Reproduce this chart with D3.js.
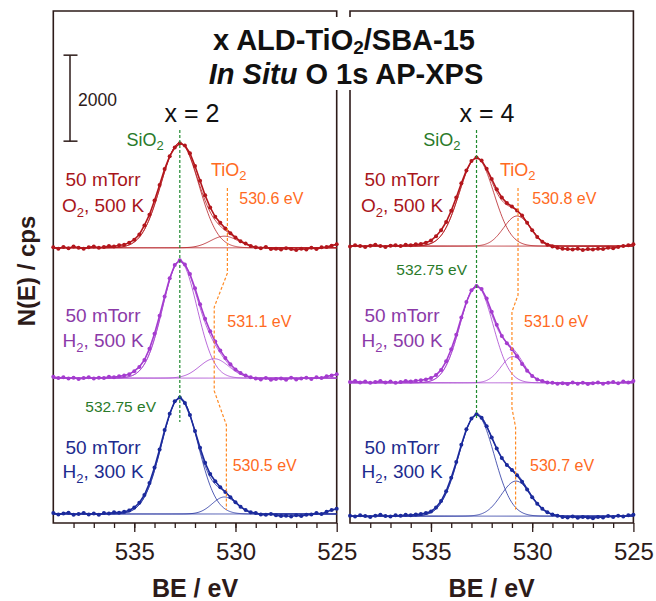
<!DOCTYPE html>
<html>
<head>
<meta charset="utf-8">
<script src="https://cdnjs.cloudflare.com/ajax/libs/d3/7.8.5/d3.min.js"></script>
<style>
  body { margin: 0; background: #fff; }
  text { font-family: "Liberation Sans", Arial, Helvetica, sans-serif; }
</style>
</head>
<body>
<script>
// binding energy grid of the measured points (eV), 539 -> 525
var beGrid = d3.range(0, 57).map(function(i){ return 539 - 0.25 * i; });

var leftO2_500 = [10,-20,20,-10,30,0,-20,10,30,0,20,40,30,60,70,120,190,310,520,770,1100,1460,1830,2130,2330,2430,2380,2200,1900,1560,1220,940,720,580,450,340,240,150,100,40,10,-10,20,-30,-20,-40,-10,-30,-50,-20,-40,0,-30,10,20,50,80];
var leftH2_500 = [30,0,20,-10,10,-20,0,20,-10,10,0,30,20,40,60,90,160,260,420,680,1030,1450,1900,2320,2630,2740,2640,2420,2090,1720,1380,1090,850,640,470,320,200,120,60,20,-10,-30,0,-40,-20,-10,-40,10,-30,-10,10,-20,20,0,40,60,90];
var leftH2_300 = [20,-10,10,30,-20,0,20,-10,10,-20,20,10,40,30,50,80,150,260,440,720,1080,1500,1950,2330,2620,2710,2580,2300,1930,1540,1190,930,760,620,510,390,270,170,90,40,20,-10,-20,0,-30,-50,-40,-60,-30,-50,-20,-10,20,0,50,90,120];
var rightO2_500 = [-10,20,0,-20,10,30,0,-20,10,20,0,30,20,40,50,80,130,230,370,560,820,1130,1460,1760,1980,2060,1990,1800,1560,1320,1130,1000,920,830,710,540,370,210,100,30,-10,-40,-60,-70,-80,-60,-90,-70,-80,-60,-70,-40,-50,-20,0,20,40];
var rightH2_500 = [20,40,10,30,0,20,40,10,30,0,20,40,30,50,60,80,110,180,300,500,780,1120,1520,1880,2150,2250,2180,1960,1650,1350,1090,920,780,620,440,280,160,80,40,10,0,-20,-10,-30,10,-20,0,-30,-10,10,-20,0,20,-10,30,10,40];
var rightH2_300 = [10,-10,20,0,-20,10,30,0,-10,20,10,30,20,40,50,70,110,200,350,580,890,1260,1660,2020,2270,2370,2290,2090,1830,1570,1350,1190,1070,950,800,620,440,290,170,90,40,10,-20,-30,-10,-40,-20,-30,-50,-20,-30,0,-20,10,-10,20,30];

// fitted components: [centre eV, height cps, FWHM eV]
var siO2Left  = [[532.75, 2440, 2.2], [532.75, 2710, 2.0], [532.75, 2700, 2.1]];
var tiO2Left  = [[530.55, 270, 1.6], [531.05, 450, 1.7], [530.55, 395, 1.4]];
var siO2Right = [[532.75, 2050, 2.0], [532.75, 2255, 1.9], [532.75, 2350, 2.05]];
var tiO2Right = [[530.75, 700, 1.56], [530.95, 610, 1.4], [530.8, 815, 1.72]];

// vertical offsets of the stacked traces (cps)
var offsetsLeft  = [6400, 3370, 210];
var offsetsRight = [6440, 3260, 160];

// guide lines [BE, cps]
var siO2Guide = [[[532.75, 9140], [532.75, 2350]], [[532.75, 9140], [532.75, 2400]]];
var tiO2Guide = [
  [[530.4, 7790], [530.4, 5810], [531.05, 5020], [531.05, 3070], [530.45, 2280], [530.45, 300]],
  [[530.7, 7790], [530.7, 5300], [531.0, 4910], [531.0, 2670], [530.82, 2230], [530.82, 300]]
];

var panelTitles = ["x = 2", "x = 4"];
var gasNames = ["O", "H", "H"];
var tempNames = [", 500 K", ", 500 K", ", 300 K"];
var tiO2LabelsLeft  = ["530.6 eV", "531.1 eV", "530.5 eV"];
var tiO2LabelsRight = ["530.8 eV", "531.0 eV", "530.7 eV"];
var majorTicks = [535, 530, 525];
var minorTicks = d3.range(526, 539);
var scaleBarValue = 2000, scaleBarBase = 8880;

var W = 656, H = 601;
var ink = "#2d1b19";
var seriesColors = ["#b3161c", "#a43ccf", "#1b2a9c"];
var labelColors = ["#a8151b", "#8b3aa8", "#1d2b8e"];
var green = "#1f8a2e", orange = "#ff8a24", orangeText = "#ff6a22", greenText = "#2a7a2a";

var svg = d3.select("body").append("svg").attr("width", W).attr("height", H);

var frameTop = 11, frameBottom = 523, panelW = 283.4;
var panelX = [53.3, 350];

var yscale = d3.scaleLinear().domain([0, (frameBottom - frameTop) / 0.043]).range([frameBottom, frameTop]);

function gauss(be, p){
    var d = be - p[0];
    return p[1] * Math.exp(-4 * Math.LN2 * d * d / (p[2] * p[2]));
}

var fineGrid = d3.range(0, 281).map(function(i){ return 539 - 0.05 * i; });

var allData = [[leftO2_500, leftH2_500, leftH2_300], [rightO2_500, rightH2_500, rightH2_300]];
var allSi = [siO2Left, siO2Right], allTi = [tiO2Left, tiO2Right];
var allOff = [offsetsLeft, offsetsRight];
var allTiLabels = [tiO2LabelsLeft, tiO2LabelsRight];

panelX.forEach(function(x0, p){
    var x1 = x0 + panelW;
    var xscale = d3.scaleLinear().domain([539, 525]).range([x0, x1]);
    var g = svg.append("g");

    // frame with a gap for the title
    var framePath = p == 0
        ? "M" + x1 + ",17 L" + x1 + "," + frameTop + " L" + x0 + "," + frameTop + " L" + x0 + "," + frameBottom + " L" + x1 + "," + frameBottom + " L" + x1 + ",90"
        : "M" + x0 + ",17 L" + x0 + "," + frameTop + " L" + x1 + "," + frameTop + " L" + x1 + "," + frameBottom + " L" + x0 + "," + frameBottom + " L" + x0 + ",90";
    g.append("path").attr("d", framePath).attr("fill", "none").attr("stroke", ink).attr("stroke-width", 1.6);

    // axes
    g.append("g").attr("transform", "translate(0," + frameBottom + ")")
        .call(d3.axisBottom(xscale).tickValues(minorTicks).tickSize(5).tickFormat(""))
        .call(function(a){ a.select(".domain").remove(); a.selectAll("line").attr("stroke", ink).attr("stroke-width", 1.3); });
    g.append("g").attr("transform", "translate(0," + frameBottom + ")")
        .call(d3.axisBottom(xscale).tickValues(majorTicks).tickSize(9).tickPadding(11).tickFormat(d3.format("d")))
        .call(function(a){
            a.select(".domain").remove();
            a.selectAll("line").attr("stroke", ink).attr("stroke-width", 1.3);
            a.selectAll("text").attr("fill", ink).attr("font-size", "24px")
                .attr("font-family", '"Liberation Sans", Arial, sans-serif');
        });

    g.append("text").text("BE / eV")
        .attr("x", (x0 + x1) / 2).attr("y", 597)
        .attr("text-anchor", "middle").attr("font-weight", "bold").attr("font-size", "25px").attr("fill", ink);

    g.append("text").text(panelTitles[p])
        .attr("x", p == 0 ? 192 : 487).attr("y", 121.5)
        .attr("text-anchor", "middle").attr("font-size", "25px").attr("fill", "#111");

    // spectra
    allData[p].forEach(function(series, s){
        var off = allOff[p][s];
        var si = allSi[p][s], ti = allTi[p][s];
        var col = seriesColors[s];

        var line = d3.line().x(function(d){ return xscale(d[0]); }).y(function(d){ return yscale(d[1] + off); });

        var bg = fineGrid.map(function(b){ return [b, 0]; });
        var siC = fineGrid.map(function(b){ return [b, gauss(b, si)]; });
        var tiC = fineGrid.map(function(b){ return [b, gauss(b, ti)]; });
        var env = fineGrid.map(function(b){ return [b, gauss(b, si) + gauss(b, ti)]; });

        [bg, siC, tiC, env].forEach(function(c){
            g.append("path").attr("d", line(c)).attr("fill", "none")
                .attr("stroke", col).attr("stroke-width", 0.9).attr("stroke-opacity", 0.85);
        });

        var pts = series.map(function(v, i){ return [beGrid[i], v]; });
        g.append("path").attr("d", line(pts)).attr("fill", "none").attr("stroke", col).attr("stroke-width", 1.6);
        g.selectAll(null).data(pts).enter().append("circle")
            .attr("cx", function(d){ return xscale(d[0]); })
            .attr("cy", function(d){ return yscale(d[1] + off); })
            .attr("r", 2.0).attr("fill", col);
    });

    // guides
    var gl = d3.line().x(function(d){ return xscale(d[0]); }).y(function(d){ return yscale(d[1]); });
    g.append("path").attr("d", gl(siO2Guide[p])).attr("fill", "none").attr("stroke", green)
        .attr("stroke-width", 1.2).attr("stroke-dasharray", "3,2");
    g.append("path").attr("d", gl(tiO2Guide[p])).attr("fill", "none").attr("stroke", orange)
        .attr("stroke-width", 1.2).attr("stroke-dasharray", "3,2");

    // labels
    var cx = p == 0 ? 103 : 402;
    var line1Y = [186, 321.7, 454], line2Y = [211.7, 346.7, 478.3];
    var tiLabelX = p == 0 ? [239.3, 227.3, 232.7] : [532.3, 524, 530];
    var tiLabelY = [204, 326.7, 471];
    for (var s = 0; s < 3; s++){
        g.append("text").text("50 mTorr").attr("x", cx).attr("y", line1Y[s])
            .attr("text-anchor", "middle").attr("font-size", "19px").attr("fill", labelColors[s]);
        var t2 = g.append("text").attr("x", cx).attr("y", line2Y[s])
            .attr("text-anchor", "middle").attr("font-size", "19px").attr("fill", labelColors[s]);
        t2.append("tspan").text(gasNames[s]);
        t2.append("tspan").text("2").attr("font-size", "13px").attr("dy", "5");
        t2.append("tspan").text(tempNames[s]).attr("dy", "-5");

        g.append("text").text(allTiLabels[p][s]).attr("x", tiLabelX[s]).attr("y", tiLabelY[s])
            .attr("font-size", "16px").attr("fill", orangeText);
    }

    var sx = xscale(532.75);
    var siT = g.append("text").attr("x", sx - 16).attr("y", 146).attr("text-anchor", "end")
        .attr("font-size", "18px").attr("fill", greenText);
    siT.append("tspan").text("SiO");
    siT.append("tspan").text("2").attr("font-size", "13px").attr("dy", "4");

    var tiT = g.append("text").attr("x", p == 0 ? 211 : 500).attr("y", 176)
        .attr("font-size", "18px").attr("fill", orangeText);
    tiT.append("tspan").text("TiO");
    tiT.append("tspan").text("2").attr("font-size", "13px").attr("dy", "4");

    g.append("text").text("532.75 eV")
        .attr("x", p == 0 ? 156 : 467).attr("y", p == 0 ? 411.7 : 275)
        .attr("text-anchor", "end").attr("font-size", "15.5px").attr("fill", greenText);
});

// scale bar
var sbx = 70;
var sb = svg.append("g").attr("stroke", ink).attr("stroke-width", 1.5);
sb.append("line").attr("x1", sbx).attr("x2", sbx).attr("y1", yscale(scaleBarBase)).attr("y2", yscale(scaleBarBase + scaleBarValue));
sb.append("line").attr("x1", sbx - 6.5).attr("x2", sbx + 7.5).attr("y1", yscale(scaleBarBase)).attr("y2", yscale(scaleBarBase));
sb.append("line").attr("x1", sbx - 6.5).attr("x2", sbx + 7.5).attr("y1", yscale(scaleBarBase + scaleBarValue)).attr("y2", yscale(scaleBarBase + scaleBarValue));
svg.append("text").text(String(scaleBarValue)).attr("x", 78).attr("y", 106)
    .attr("font-size", "17.5px").attr("fill", ink);

// y label
svg.append("text").text("N(E) / cps")
    .attr("transform", "translate(35,271) rotate(-90)")
    .attr("text-anchor", "middle").attr("font-weight", "bold").attr("font-size", "24px").attr("fill", ink);

// title
var t1 = svg.append("text").attr("x", 344).attr("y", 50).attr("text-anchor", "middle")
    .attr("font-weight", "bold").attr("font-size", "29px").attr("fill", "#111");
t1.append("tspan").text("x ALD-TiO");
t1.append("tspan").text("2").attr("font-size", "19px").attr("dy", "4");
t1.append("tspan").text("/SBA-15").attr("dy", "-4");
var t2 = svg.append("text").attr("x", 346).attr("y", 84).attr("text-anchor", "middle")
    .attr("font-weight", "bold").attr("font-size", "29px").attr("fill", "#111");
t2.append("tspan").text("In Situ").attr("font-style", "italic");
t2.append("tspan").text(" O 1s AP-XPS");
</script>
</body>
</html>
